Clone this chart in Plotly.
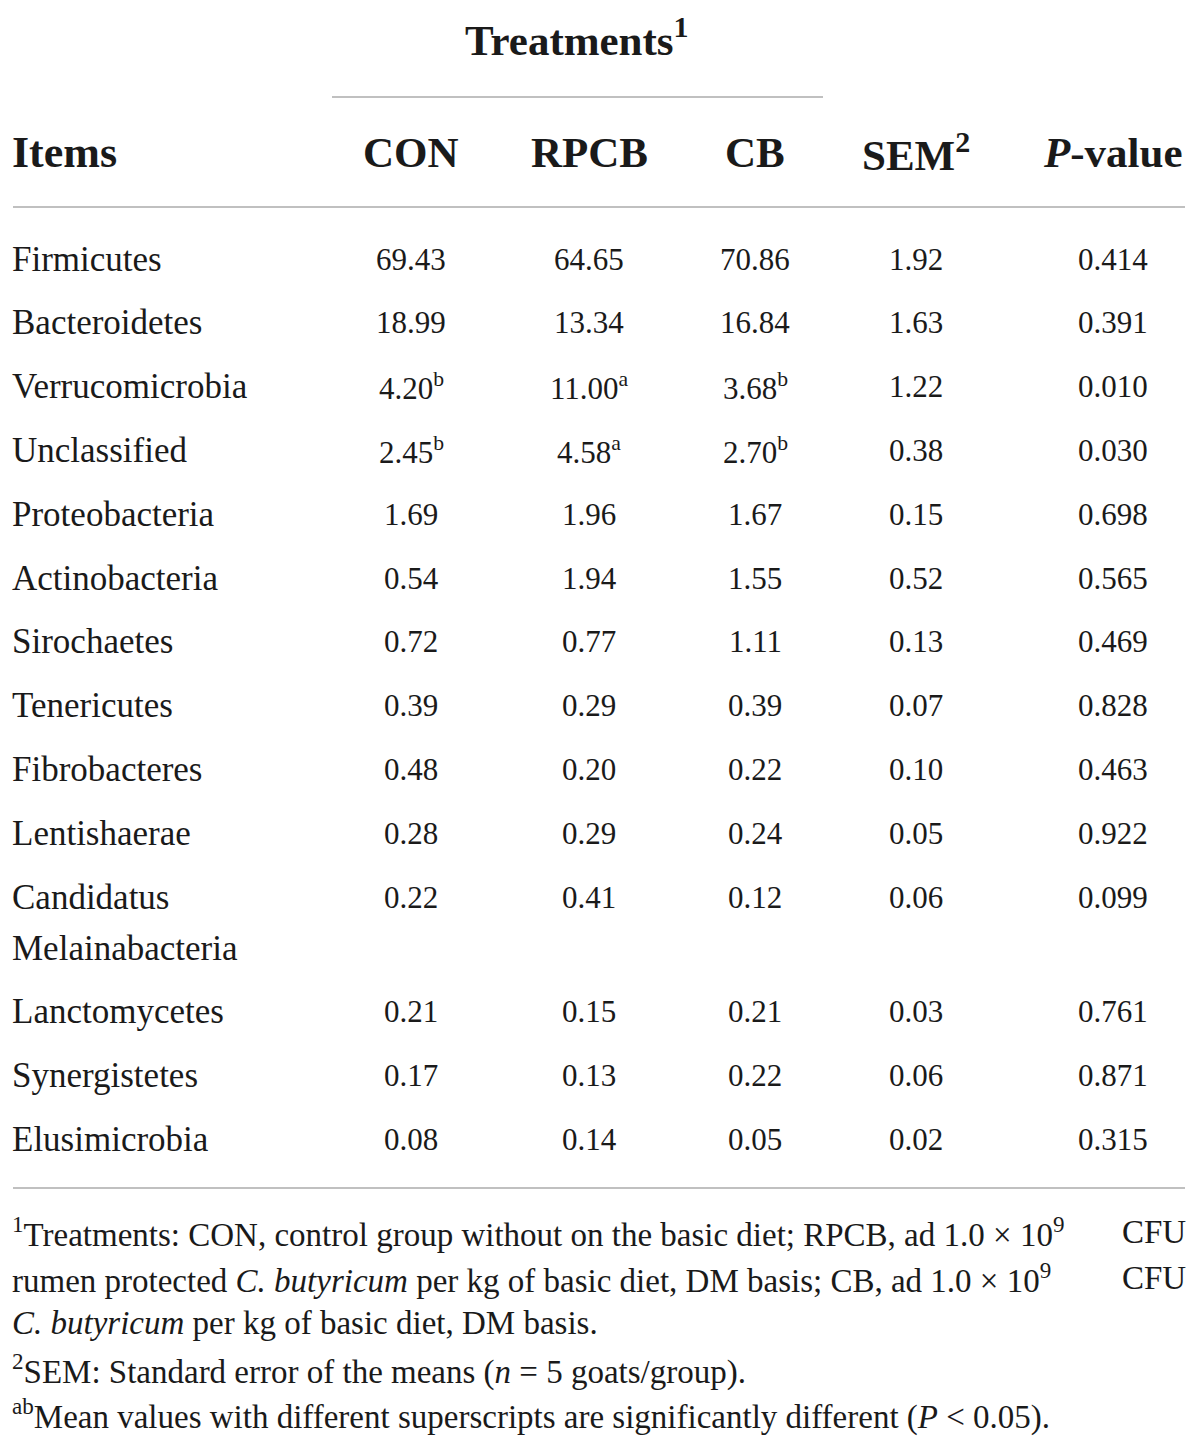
import plotly.graph_objects as go

# ---- data ----
items = ["Firmicutes", "Bacteroidetes", "Verrucomicrobia", "Unclassified", "Proteobacteria",
         "Actinobacteria", "Sirochaetes", "Tenericutes", "Fibrobacteres", "Lentishaerae",
         "Candidatus<br>Melainabacteria", "Lanctomycetes", "Synergistetes", "Elusimicrobia"]
con = ["69.43", "18.99", "4.20", "2.45", "1.69", "0.54", "0.72", "0.39", "0.48", "0.28", "0.22", "0.21", "0.17", "0.08"]
con_sup = ["", "", "b", "b", "", "", "", "", "", "", "", "", "", ""]
rpcb = ["64.65", "13.34", "11.00", "4.58", "1.96", "1.94", "0.77", "0.29", "0.20", "0.29", "0.41", "0.15", "0.13", "0.14"]
rpcb_sup = ["", "", "a", "a", "", "", "", "", "", "", "", "", "", ""]
cb = ["70.86", "16.84", "3.68", "2.70", "1.67", "1.55", "1.11", "0.39", "0.22", "0.24", "0.12", "0.21", "0.22", "0.05"]
cb_sup = ["", "", "b", "b", "", "", "", "", "", "", "", "", "", ""]
sem = ["1.92", "1.63", "1.22", "0.38", "0.15", "0.52", "0.13", "0.07", "0.10", "0.05", "0.06", "0.03", "0.06", "0.02"]
pval = ["0.414", "0.391", "0.010", "0.030", "0.698", "0.565", "0.469", "0.828", "0.463", "0.922", "0.099", "0.761", "0.871", "0.315"]

col_headers = ["CON", "RPCB", "CB", "SEM<sup>2</sup>", "<i>P</i>-value"]
group_header = "Treatments<sup>1</sup>"
item_header = "Items"

footnotes = [
    ("<sup>1</sup>Treatments: CON, control group without on the basic diet; RPCB, ad 1.0 × 10<sup>9</sup>", "CFU"),
    ("rumen protected <i>C. butyricum</i> per kg of basic diet, DM basis; CB, ad 1.0 × 10<sup>9</sup>", "CFU"),
    ("<i>C. butyricum</i> per kg of basic diet, DM basis.", ""),
    ("<sup>2</sup>SEM: Standard error of the means (<i>n</i> = 5 goats/group).", ""),
    ("<sup>ab</sup>Mean values with different superscripts are significantly different (<i>P</i> &lt; 0.05).", ""),
]

# ---- layout ----
W, H = 1200, 1448
PAGE_OFF = 8  # default page margin of the html body
SERIF = "Liberation Serif"
col_x = [411, 589, 755, 916, 1113]
LEFT, RIGHT = 10, 1186
row_step = 63.8
first_row_y = 259
line_gap = 51

fig = go.Figure()
fig.update_layout(
    width=W, height=H, margin=dict(l=0, r=0, t=0, b=0),
    paper_bgcolor="white", plot_bgcolor="white", showlegend=False,
    xaxis=dict(range=[PAGE_OFF, W + PAGE_OFF], visible=False, fixedrange=True),
    yaxis=dict(range=[H + PAGE_OFF, PAGE_OFF], visible=False, fixedrange=True),
)

def txt(x, y, s, size, anchor="left", bold=False, color="#1a1a1a"):
    fig.add_annotation(x=x, y=y, xref="x", yref="y", text=("<b>%s</b>" % s) if bold else s,
                       showarrow=False, xanchor=anchor, yanchor="middle",
                       font=dict(family=SERIF, size=size, color=color), align="left")

def hline(x0, x1, y, w=2):
    fig.add_shape(type="line", xref="x", yref="y", x0=x0, x1=x1, y0=y, y1=y,
                  line=dict(color="#c0c0c0", width=w))

# header
txt(577, 37, group_header, 43, anchor="center", bold=True)
hline(332, 823, 97)
txt(LEFT, 152, item_header, 44, bold=True)
for cx, h in zip(col_x, col_headers):
    txt(cx, 152, h, 43, anchor="center", bold=True)
hline(13, 1185, 207)

# body
y = first_row_y
for i, name in enumerate(items):
    nlines = name.count("<br>") + 1
    if nlines > 1:
        for j, part in enumerate(name.split("<br>")):
            txt(LEFT, y + j * line_gap, part, 35)
    else:
        txt(LEFT, y, name, 35)
    vals = [con[i] + (f"<sup>{con_sup[i]}</sup>" if con_sup[i] else ""),
            rpcb[i] + (f"<sup>{rpcb_sup[i]}</sup>" if rpcb_sup[i] else ""),
            cb[i] + (f"<sup>{cb_sup[i]}</sup>" if cb_sup[i] else ""),
            sem[i], pval[i]]
    for cx, v in zip(col_x, vals):
        txt(cx, y, v, 31, anchor="center")
    y += row_step + (nlines - 1) * line_gap

hline(13, 1185, 1188)

# footnotes
fy = 1232
for left_part, right_part in footnotes:
    txt(LEFT, fy, left_part, 33)
    if right_part:
        txt(RIGHT + 2, fy, right_part, 33, anchor="right")
    fy += 45.7

fig.write_html("out.html")
